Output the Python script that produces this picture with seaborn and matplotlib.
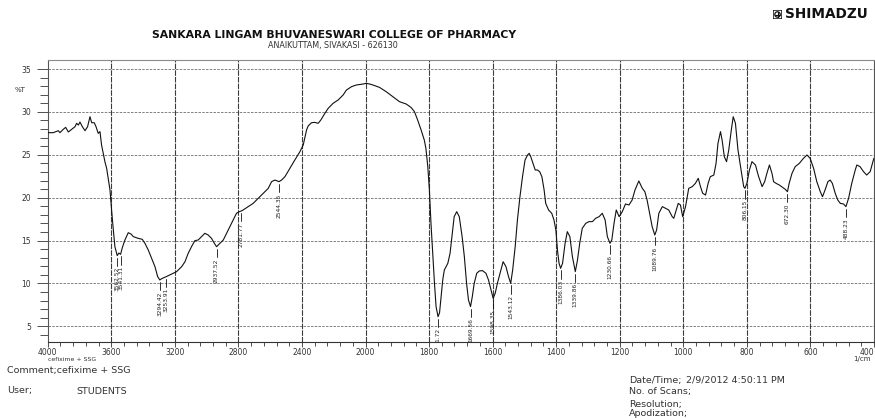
import numpy as np
import pandas as pd
import matplotlib
matplotlib.use("Agg")
import matplotlib.pyplot as plt
import seaborn as sns
from matplotlib.ticker import FixedLocator, FixedFormatter
from matplotlib.patches import Rectangle, Circle
from matplotlib.lines import Line2D

# FTIR spectrum of cefixime + SSG (wavenumber in 1/cm, transmittance in %T)
wavenumber = [
    3998, 3965, 3933, 3923, 3902, 3887, 3870, 3849, 3828, 3818, 3807, 3797,
    3782, 3765, 3749, 3734, 3723, 3707, 3696, 3682, 3671, 3661, 3640, 3629,
    3608, 3598, 3587, 3577, 3562.52, 3552, 3541.31, 3530, 3514, 3493, 3476,
    3461, 3430, 3405, 3388, 3367, 3346, 3325, 3308, 3294.42, 3283, 3253.91,
    3220, 3189, 3157, 3136, 3116, 3095, 3074, 3053, 3032, 3011, 2990, 2969,
    2955, 2937.52, 2916, 2895, 2874, 2853, 2832, 2812, 2795, 2781.77, 2770,
    2738, 2707, 2675, 2644, 2612, 2591, 2570, 2544.35, 2528, 2507, 2476, 2445,
    2413, 2392, 2371, 2361, 2340, 2319, 2298, 2281, 2256, 2235, 2204, 2172,
    2141, 2120, 2088, 2057, 2015, 1998, 1987, 1977, 1956, 1935, 1914, 1893,
    1872, 1857, 1846, 1836, 1825, 1815, 1810, 1804, 1799, 1794, 1789, 1783,
    1778, 1771.72, 1767, 1762, 1757, 1752, 1741, 1734, 1728, 1721, 1713, 1705,
    1696, 1689, 1682, 1676, 1669.56, 1664, 1658, 1650, 1642, 1632, 1621, 1613,
    1605, 1598.35, 1592, 1585, 1574, 1567, 1558, 1550, 1543.12, 1537, 1529,
    1522, 1514, 1506, 1498, 1490, 1485, 1480, 1473, 1466, 1459, 1452, 1445,
    1438, 1433, 1424, 1414, 1407, 1401, 1396, 1391, 1386.03, 1380, 1372, 1365,
    1357, 1349, 1339.86, 1333, 1326, 1318, 1307, 1297, 1286, 1276, 1265, 1255,
    1246, 1239, 1230.66, 1225, 1218, 1211, 1202, 1192, 1182, 1171, 1161, 1152,
    1140, 1129, 1121, 1114, 1106, 1098, 1089.76, 1084, 1077, 1066, 1056, 1046,
    1035, 1030, 1022, 1016, 1009, 1002, 993, 983, 972, 962, 953, 946, 939, 930,
    922, 915, 904, 897, 891, 883, 878, 871, 864, 857, 849, 843, 836, 828, 820,
    815, 810, 806.15, 800, 792, 784, 773, 763, 752, 744, 737, 729, 721, 716,
    708, 698, 688, 679, 672.30, 667, 658, 648, 635, 622, 611, 601, 590, 580,
    569, 562, 554, 545, 538, 531, 522, 514, 506, 496, 488.23, 480, 470, 459,
    454, 444, 433, 423, 412, 402, 400,
]
transmittance = [
    27.58, 27.58, 27.81, 27.58, 27.97, 28.20, 27.66, 27.97, 28.28, 28.67, 28.47, 28.82,
    28.28, 27.81, 28.28, 29.44, 28.74, 28.74, 28.28, 27.50, 27.70, 26.14, 24.20, 23.42,
    20.90, 18.57, 16.24, 14.29, 13.25, 13.55, 13.40, 14.20, 15.07, 15.92, 15.77,
    15.46, 15.26, 15.15, 14.68, 13.90, 12.93, 11.96, 10.80, 10.41, 10.56, 10.80,
    11.10, 11.38, 11.96, 12.54, 13.51, 14.29, 14.99, 15.07, 15.46, 15.85, 15.65, 15.26,
    14.80, 14.29, 14.68, 15.07, 15.85, 16.62, 17.40, 18.18, 18.37, 18.45, 18.57,
    18.96, 19.34, 19.93, 20.51, 21.09, 21.87, 22.06, 21.87, 22.06, 22.45, 23.42, 24.39,
    25.36, 26.14, 27.89, 28.36, 28.74, 28.78, 28.67, 29.06, 29.83, 30.41, 31.00, 31.39,
    31.97, 32.55, 32.94, 33.14, 33.25, 33.33, 33.25, 33.14, 32.86, 32.36, 31.78, 31.19,
    30.92, 30.53, 30.03, 29.06, 27.89, 26.72, 25.75, 23.62, 20.90, 17.01, 13.90, 10.02,
    7.30, 6.13, 6.60, 8.46, 10.41, 11.57, 12.35, 13.51, 15.46, 17.79, 18.37, 17.79,
    15.46, 13.13, 10.02, 8.08, 7.30, 8.46, 10.02, 11.19, 11.46, 11.50, 11.19, 10.41,
    9.24, 8.27, 8.85, 10.02, 11.57, 12.54, 11.96, 10.80, 10.02, 11.57, 14.29,
    17.40, 20.12, 22.45, 24.39, 24.98, 25.17, 24.78, 24.00, 23.23, 23.23, 23.03, 22.45,
    20.90, 19.34, 18.57, 18.18, 17.40, 16.24, 13.90, 12.35, 11.77, 12.35, 14.68, 16.04,
    15.46, 13.13, 11.38, 12.74, 14.68, 16.43, 17.01, 17.21, 17.21, 17.60, 17.79, 18.18,
    17.40, 15.46, 14.68, 15.07, 17.01, 18.57, 17.79, 18.37, 19.27, 19.15, 19.73, 20.90,
    21.95, 21.09, 20.70, 19.73, 18.18, 16.62, 15.65, 16.24, 18.18, 18.96, 18.76, 18.57,
    17.79, 17.60, 18.57, 19.34, 19.15, 17.79, 18.96, 21.09, 21.29, 21.67, 22.26, 21.29, 20.51, 20.31,
    21.67, 22.45, 22.64, 24.00, 26.33, 27.70, 26.72, 24.78, 24.20, 25.56, 27.89, 29.44, 28.67, 25.56, 23.62,
    22.45, 21.29, 21.09, 21.67, 23.23, 24.20, 23.81, 22.45, 21.29, 21.87, 22.84, 23.81, 22.84, 21.87,
    21.67, 21.48, 21.21, 20.97, 20.70, 21.67, 22.84, 23.62, 24.00, 24.59, 24.98, 24.59, 23.42, 21.87,
    20.70, 20.12, 20.90, 21.87, 22.06, 21.67, 20.51, 19.73, 19.34, 19.27, 18.96, 19.93, 21.67, 23.23,
    23.81, 23.62, 23.04, 22.64, 23.04, 24.39, 24.60,
]

# Annotated peaks
peak_labels = ["3562.52", "3541.31", "3294.42", "3253.91", "2937.52", "2781.77",
               "2544.35", "1771.72", "1669.56", "1598.35", "1543.12", "1386.03",
               "1339.86", "1230.66", "1089.76", "806.15", "672.30", "488.23"]

x_major = [4000, 3600, 3200, 2800, 2400, 2000, 1800, 1600, 1400, 1200, 1000, 800, 600, 400]
x_major_labels = ["4000", "3600", "3200", "2800", "2400", "2000", "1800", "1600",
                  "1400", "1200", "1000", "800", "600", "400"]
y_major = [5, 10, 15, 20, 25, 30, 35]

df = pd.DataFrame({"wavenumber": wavenumber, "transmittance": transmittance})

sns.set_style("ticks")
plt.rcParams["font.family"] = ["DejaVu Sans"]

W, H = 875, 418
fig = plt.figure(figsize=(W / 100, H / 100), dpi=100)


def fx(px):
    return px / W


def fy(py):
    return 1 - py / H


ax = fig.add_axes([fx(47.7), fy(342), fx(874) - fx(47.7), fy(60) - fy(342)])


# Shimadzu-style axis: 4000-2000 compressed to half the scale of 2000-400
def fwd(x):
    x = np.asarray(x, dtype=float)
    return np.where(x > 2000, 2000 + (x - 2000) / 2.0, x)


def inv(u):
    u = np.asarray(u, dtype=float)
    return np.where(u > 2000, 2000 + (u - 2000) * 2.0, u)


ax.set_xscale("function", functions=(fwd, inv))
ax.set_xlim(4000, 400)
ax.set_ylim(3.18, 36.05)

# grid
for y in y_major:
    ax.axhline(y, color="#6f6f6f", lw=0.6, ls=(0, (3, 1.5)), zorder=1)
for x in x_major[1:-1]:
    ax.axvline(x, color="#3c3c3c", lw=0.8, ls=(0, (5, 1)), zorder=1)

sns.lineplot(data=df, x="wavenumber", y="transmittance", ax=ax, sort=False,
             estimator=None, color="#111111", lw=0.8, zorder=3)

# peak markers (labels running past the frame are cut by it)
lookup = dict(zip(wavenumber, transmittance))
for lab in peak_labels:
    w = float(lab)
    t = lookup[w]
    ax.plot([w, w], [t - 0.25, t - 1.2], color="#111111", lw=0.6, zorder=3)
    txt = ax.text(w, t - 1.35, lab, rotation=90, ha="center", va="top",
                  fontsize=4.2, color="#222222", zorder=3)
    txt.set_clip_on(True)

ax.set_xlabel("")
ax.set_ylabel("")

ax.xaxis.set_major_locator(FixedLocator(x_major))
ax.xaxis.set_major_formatter(FixedFormatter(x_major_labels))
x_minor = [v for v in range(2000, 4000, 80)] + [v for v in range(400, 2000, 40)]
ax.xaxis.set_minor_locator(FixedLocator(x_minor))
ax.yaxis.set_major_locator(FixedLocator(y_major))
ax.yaxis.set_minor_locator(FixedLocator(list(range(4, 36))))

ax.tick_params(axis="x", which="major", direction="out", length=3.5, width=0.6,
               labelsize=5.5, pad=1, colors="#333333")
ax.tick_params(axis="x", which="minor", direction="out", length=3, width=0.6, colors="#333333")
ax.tick_params(axis="y", which="major", direction="out", length=8, width=0.6,
               labelsize=5.5, pad=4, colors="#333333")
ax.tick_params(axis="y", which="minor", direction="out", length=5.5, width=0.6, colors="#333333")
# the last label sits against the right border
ax.get_xticklabels()[-1].set_horizontalalignment("right")

for side, col in [("left", "#555555"), ("top", "#8a8a8a"), ("right", "#555555"), ("bottom", "#333333")]:
    ax.spines[side].set_visible(True)
    ax.spines[side].set_color(col)
    ax.spines[side].set_linewidth(0.8)

# header
fig.text(fx(334), fy(35.5), "SANKARA LINGAM BHUVANESWARI COLLEGE OF PHARMACY",
         ha="center", va="center", fontsize=7.8, fontweight="bold", color="#111111")
fig.text(fx(333), fy(45.3), "ANAIKUTTAM, SIVAKASI - 626130",
         ha="center", va="center", fontsize=5.8, color="#333333")

# logo
logo_ax = fig.add_axes([fx(773), fy(19), fx(9), fy(0) - fy(9)])
logo_ax.set_xlim(0, 1)
logo_ax.set_ylim(0, 1)
logo_ax.axis("off")
logo_ax.add_patch(Rectangle((0.03, 0.03), 0.94, 0.94, fc="none", ec="#111111", lw=1.1))
logo_ax.add_patch(Circle((0.5, 0.5), 0.3, fc="none", ec="#111111", lw=0.9))
logo_ax.add_line(Line2D([0.2, 0.8], [0.5, 0.5], color="#111111", lw=0.8))
logo_ax.add_line(Line2D([0.5, 0.5], [0.2, 0.8], color="#111111", lw=0.8))
fig.text(fx(785), fy(14.5), "SHIMADZU", ha="left", va="center",
         fontsize=9.8, fontweight="bold", color="#111111")

# axis captions
fig.text(fx(20), fy(90), "%T", ha="center", va="center", fontsize=5, color="#333333")
fig.text(fx(862), fy(359.5), "1/cm", ha="center", va="center", fontsize=5, color="#333333")
fig.text(fx(48), fy(359.5), "cefixime + SSG", ha="left", va="center", fontsize=4.4, color="#333333")

# footer
foot = dict(ha="left", va="center", fontsize=6.8, color="#333333")
fig.text(fx(7), fy(370), "Comment;cefixime + SSG", **foot)
fig.text(fx(7), fy(391), "User;", **foot)
fig.text(fx(76), fy(391), "STUDENTS", **foot)
fig.text(fx(629), fy(380), "Date/Time;", **foot)
fig.text(fx(686), fy(380), "2/9/2012 4:50:11 PM", **foot)
fig.text(fx(629), fy(391.5), "No. of Scans;", **foot)
fig.text(fx(629), fy(404), "Resolution;", **foot)
fig.text(fx(629), fy(414), "Apodization;", **foot)

fig.savefig("out.png", dpi=100, facecolor="white")
